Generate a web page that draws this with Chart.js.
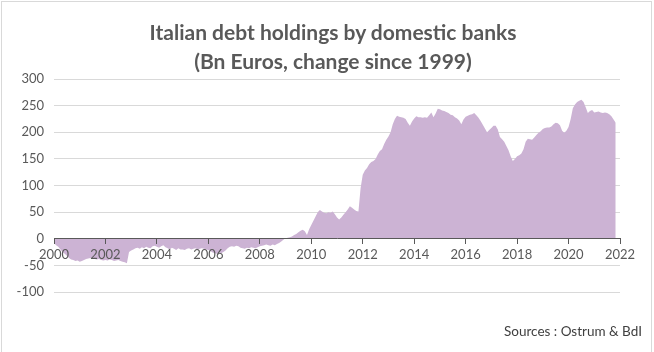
<!DOCTYPE html>
<html>
<head>
<meta charset="utf-8">
<script src="https://cdn.jsdelivr.net/npm/chart.js@4.4.0/dist/chart.umd.min.js"></script>
<style>
  html, body { margin: 0; padding: 0; background: #fff; }
  #wrap { position: relative; width: 654px; height: 352px; font-family: Lato, "Open Sans", sans-serif; }
  #frame { position: absolute; left: 1px; top: 1px; width: 651px; height: 352px; border: 1px solid #d9d9d9; box-sizing: border-box; pointer-events: none; }
  #title { position: absolute; left: 0; width: 666px; top: 17px; text-align: center; font-size: 21px; font-weight: bold; line-height: 29px; color: #595959; }
  #src { position: absolute; right: 12px; top: 323px; font-size: 13.5px; color: #404040; }
</style>
</head>
<body>
<div id="wrap">
  <canvas id="c" width="654" height="352"></canvas>
  <div id="frame"></div>
  <div id="title">Italian debt holdings by domestic banks<br>(Bn Euros, change since 1999)</div>
  <div id="src">Sources : Ostrum &amp; BdI</div>
</div>
<script>
// monthly values, Jan 2000 .. Nov 2021 (bn EUR, change since 1999)
const startYear = 2000;
const values = [
  -8, -12, -15, -20, -25, -28, -32, -36, -39, -40, -42, -41,      // 2000
  -43, -42, -40, -38, -37, -36, -37, -38, -39, -38, -40, -41,     // 2001
  -40, -41, -39, -40, -42, -41, -40, -42, -43, -44, -46, -25,     // 2002
  -22, -20, -18, -17, -19, -16, -18, -15, -17, -18, -14, -13,     // 2003
  -15, -17, -14, -12, -16, -18, -20, -17, -19, -21, -18, -20,     // 2004
  -20, -21, -19, -18, -20, -19, -18, -20, -19, -18, -19, -20,     // 2005
  -21, -23, -26, -27, -28, -26, -27, -25, -22, -18, -15, -14,     // 2006
  -15, -13, -14, -17, -18, -19, -17, -18, -16, -17, -18, -16,     // 2007
  -14, -13, -12, -11, -12, -13, -11, -12, -10, -8, -5, -2,        // 2008
  1, 2, 3, 4, 7, 9, 12, 15, 17, 14, 7, 18,                        // 2009
  26, 34, 42, 50, 54, 51, 49, 48, 50, 49, 51, 46,                 // 2010
  40, 36, 40, 45, 50, 55, 61, 58, 55, 52, 51, 95,                 // 2011
  120, 128, 133, 140, 144, 146, 150, 158, 165, 168, 178, 186,     // 2012
  192, 200, 215, 225, 231, 229, 228, 227, 225, 218, 212, 220,     // 2013
  226, 230, 228, 228, 227, 228, 227, 232, 237, 228, 235, 244,     // 2014
  243, 241, 240, 238, 236, 233, 232, 228, 226, 222, 215, 224,     // 2015
  229, 231, 233, 234, 236, 232, 227, 221, 214, 207, 200, 204,     // 2016
  208, 212, 212, 205, 191, 187, 182, 174, 166, 155, 146, 150,     // 2017
  155, 157, 160, 168, 182, 188, 187, 186, 190, 195, 199, 202,     // 2018
  206, 208, 209, 209, 211, 215, 218, 217, 213, 203, 199, 203,     // 2019
  210, 225, 245, 252, 257, 259, 261, 257, 247, 236, 240, 242,     // 2020
  237, 238, 239, 237, 236, 237, 236, 234, 230, 224, 218           // 2021
];
const tickYears = [2000, 2002, 2004, 2006, 2008, 2010, 2012, 2014, 2016, 2018, 2020, 2022];
const yTicks = [-100, -50, 0, 50, 100, 150, 200, 250, 300];

const tc = '#595959';
const font = 'Lato, "Open Sans", sans-serif';

new Chart(document.getElementById('c'), {
  type: 'line',
  data: {
    datasets: [{
      data: values.map((v, i) => ({ x: i, y: v })),
      fill: 'origin',
      backgroundColor: 'rgb(204,179,212)',
      borderWidth: 0,
      pointRadius: 0,
      tension: 0,
    }],
  },
  options: {
    responsive: false, animation: false,
    layout: { padding: { left: 0, right: 34, top: 79, bottom: 60 } },
    plugins: {
      legend: { display: false },
      tooltip: { enabled: false },
    },
    scales: {
      x: {
        type: 'linear',
        position: { y: 0 },
        min: 0, max: (tickYears[tickYears.length - 1] - startYear) * 12,
        afterBuildTicks: s => { s.ticks = tickYears.map(y => ({ value: (y - startYear) * 12 })); },
        grid: { drawOnChartArea: false, drawTicks: true, tickLength: 5, color: '#595959', z: 1 },
        border: { display: true, color: '#595959', width: 1, z: 1 },
        ticks: { color: tc, font: { family: font, size: 13 }, padding: 3, maxRotation: 0, autoSkip: false, z: 1,
                 callback: v => String(startYear + v / 12) },
      },
      y: {
        min: yTicks[0], max: yTicks[yTicks.length - 1],
        afterBuildTicks: s => { s.ticks = yTicks.map(v => ({ value: v })); },
        afterFit: s => { s.width = 54; },
        grid: { color: '#d9d9d9', drawTicks: false },
        border: { display: false },
        ticks: { color: tc, font: { family: font, size: 13 }, padding: 10, autoSkip: false },
      },
    },
  },
});
</script>
</body>
</html>
